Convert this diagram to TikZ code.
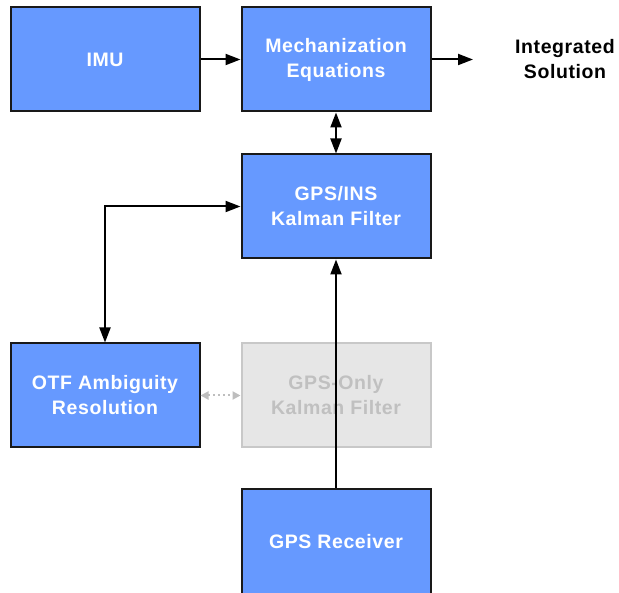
\documentclass[tikz,border=0pt]{standalone}
\usepackage{fontspec}
\setmainfont{Liberation Sans}
\usetikzlibrary{arrows.meta}
\definecolor{boxblue}{RGB}{102,153,255}
\definecolor{boxedge}{RGB}{25,25,25}
\definecolor{greyfill}{RGB}{230,230,230}
\definecolor{greyedge}{RGB}{200,200,200}
\definecolor{greytext}{RGB}{192,192,192}
\definecolor{dotgrey}{RGB}{190,190,190}
\tikzset{
  blockbox/.style={draw=boxedge, line width=2pt, fill=boxblue, text=white,
    minimum width=189pt, minimum height=104pt, align=center,
    font=\fontsize{19.5}{25}\selectfont\bfseries\addfontfeatures{LetterSpace=3}},
  greybox/.style={blockbox, draw=greyedge, fill=greyfill, text=greytext},
  conn/.style={line width=2pt, draw=black,
    arrows={-Triangle[length=15pt,width=11pt]}},
  dconn/.style={conn, arrows={Triangle[length=15pt,width=11pt]-Triangle[length=15pt,width=11pt]}},
  dotconn/.style={line width=2pt, draw=dotgrey, dash pattern=on 2pt off 3pt,
    arrows={Triangle[length=8pt,width=8pt]-Triangle[length=8pt,width=8pt]}},
  plainlabel/.style={align=center,
    font=\fontsize{19.5}{25}\selectfont\bfseries\addfontfeatures{LetterSpace=3}}
}
\begin{document}
\begin{tikzpicture}[x=1pt,y=-1pt]
\clip (0,0) rectangle (619,593);
\fill[white] (0,0) rectangle (619,593);
\node[blockbox] (imu) at (105,59.5) {IMU};
\node[blockbox] (mech) at (336,59.5) {Mechanization\\Equations};
\node[blockbox] (ins) at (336,206.5) {GPS/INS\\Kalman Filter};
\node[blockbox] (otf) at (105,395.5) {OTF Ambiguity\\Resolution};
\node[greybox] (gpsonly) at (336,395.5) {GPS-Only\\Kalman Filter};
\node[blockbox, minimum height=106pt] (rcv) at (336,542) {GPS Receiver};
\node[plainlabel] (sol) at (565,59.5) {Integrated\\Solution};
\coordinate (solin) at (473,59.5);
\draw[conn] (imu) -- (mech);
\draw[conn] (mech) -- (solin);
\draw[dconn] (mech) -- (ins);
\draw[dconn] (otf.north) |- (ins.west);
\draw[conn] (rcv.north) -- (ins.south);
\draw[dotconn] (otf) -- (gpsonly);
\end{tikzpicture}
\end{document}
